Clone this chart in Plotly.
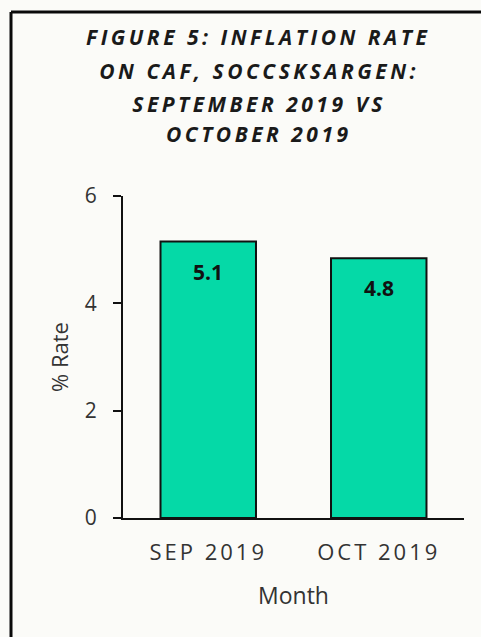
import plotly.graph_objects as go

months = ["SEP 2019", "OCT 2019"]
rates = [5.15, 4.84]
rate_labels = ["5.1", "4.8"]
title_lines = ["FIGURE 5: INFLATION RATE", "ON CAF, SOCCSKSARGEN:", "SEPTEMBER 2019 VS", "OCTOBER 2019"]
y_ticks = [0, 2, 4, 6]

W, H = 481, 637
L, R, T, B = 123, 17, 196, 119
pw, ph = W - L - R, H - T - B

bg = "#fbfbf8"
bar_color = "#05d9a7"
font_fam = "Open Sans, Liberation Sans, sans-serif"

fig = go.Figure()
fig.add_trace(go.Bar(
    x=months, y=rates, width=0.56,
    marker=dict(color=bar_color, line=dict(color="#111111", width=2)),
    hoverinfo="skip",
))

for m, v, lab in zip(months, rates, rate_labels):
    fig.add_annotation(x=m, y=v, text=f"<b>{lab}</b>", showarrow=False,
                       yanchor="middle", yshift=-30,
                       font=dict(family=font_fam, size=21, color="#111111"))

line_y = [37, 71, 104, 134]
for txt, yy in zip(title_lines, line_y):
    fig.add_annotation(xref="paper", yref="paper",
                       x=(259 - L) / pw, y=(H - B - yy) / ph,
                       text=f"<b><i>{txt}</i></b>", showarrow=False,
                       xanchor="center", yanchor="middle",
                       font=dict(family=font_fam, size=21, color="#1a1a1a"))

# frame (left and top edges visible; right/bottom run off the page)
fx0 = (11 - L) / pw
fy1 = (H - B - 12) / ph
fig.add_shape(type="line", xref="paper", yref="paper",
              x0=fx0, x1=(W + 20 - L) / pw, y0=fy1, y1=fy1,
              line=dict(color="#0a0a0a", width=3), layer="above")
fig.add_shape(type="line", xref="paper", yref="paper",
              x0=fx0, x1=fx0, y0=(H - B - (H + 20)) / ph, y1=fy1,
              line=dict(color="#0a0a0a", width=3), layer="above")
# x-axis extension to the left of the y-axis
fig.add_shape(type="line", xref="paper", yref="paper",
              x0=-8 / pw, x1=0, y0=0, y1=0,
              line=dict(color="#111111", width=2))

fig.update_layout(
    width=W, height=H,
    margin=dict(l=L, r=R, t=T, b=B, autoexpand=False),
    paper_bgcolor=bg, plot_bgcolor=bg,
    showlegend=False,
    bargap=0.44,
    font=dict(family=font_fam, color="#333333"),
)
fig.update_xaxes(
    range=[-0.5, 1.5], showline=True, linecolor="#111111", linewidth=2,
    ticks="", showgrid=False, zeroline=False, ticklabelstandoff=14,
    tickfont=dict(size=22, color="#333333"),
    title=dict(text="Month", font=dict(size=23, color="#333333"), standoff=22),
)
fig.update_yaxes(
    range=[0, 6], tickvals=y_ticks, showline=True, linecolor="#111111", linewidth=2,
    ticks="outside", ticklen=8, tickwidth=2, tickcolor="#111111",
    showgrid=False, zeroline=False, ticklabelstandoff=12,
    tickfont=dict(size=21, color="#333333"),
    title=dict(text="% Rate", font=dict(size=22, color="#333333"), standoff=10),
)

post = """
document.body.style.margin='0';
document.body.style.overflow='hidden';
var st=document.createElement('style');
st.textContent='.xtick text{letter-spacing:3px;} '+
 '.annotation[data-index="2"] text,.annotation[data-index="3"] text,'+
 '.annotation[data-index="4"] text,.annotation[data-index="5"] text{letter-spacing:3.5px;}';
document.head.appendChild(st);
"""
fig.write_html("out.html", post_script=post, config={"displayModeBar": False})
